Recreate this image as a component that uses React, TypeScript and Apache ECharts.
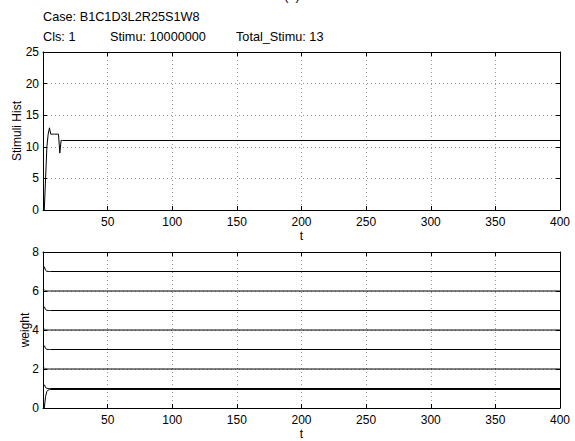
import React, { useEffect, useRef } from "react";
import * as echarts from "echarts";

// Top panel: Stimuli Hist vs t
const stimT = [1, 2, 3, 4, 5, 6, 7, 8, 9, 10, 11, 12, 13, 14, 15, 400];
const stimV = [0, 5, 10, 12, 13, 12, 12, 12, 12, 12, 12, 12, 9, 11, 11, 11];

// Bottom panel: weights vs t (each list = one weight trajectory)
const wT = [1, 2, 3, 4, 5, 6, 400];
const weights: number[][] = [
  [7.25, 7.06, 7.01, 7, 7, 7, 7],
  [6.06, 6.01, 6, 6, 6, 6, 6],
  [5.2, 5.05, 5.01, 5, 5, 5, 5],
  [4.05, 4.01, 4, 4, 4, 4, 4],
  [3.2, 3.05, 3.01, 3, 3, 3, 3],
  [2.05, 2.01, 2, 2, 2, 2, 2],
  [1.2, 1.05, 1.01, 1, 1, 1, 1],
  [0, 0.6, 0.85, 0.92, 0.95, 0.95, 0.95],
];

const xTicks = [50, 100, 150, 200, 250, 300, 350, 400];

const caseText = "Case: B1C1D3L2R25S1W8";
const clsText = "Cls: 1";
const stimuText = "Stimu: 10000000";
const totalText = "Total_Stimu: 13";

const FONT = "'Liberation Sans', Arial, Helvetica, sans-serif";

export default function App() {
  const ref = useRef<HTMLDivElement>(null);
  useEffect(() => {
    if (!ref.current) return;
    const chart = echarts.init(ref.current, undefined, { renderer: "svg" });
    const txt = { color: "#000", fontFamily: FONT, fontSize: 12 };
    const grids = [
      { left: 43, right: 15, top: 52, height: 158 },
      { left: 43, right: 15, top: 252, height: 158 },
    ];
    const axisLine = { show: true, onZero: false, lineStyle: { color: "#000", width: 1 } };
    const tick = { show: true, inside: true, length: 4, lineStyle: { color: "#000" } };
    const split = { show: true, lineStyle: { color: "#999", type: [1, 3] as any, width: 1 } };
    const xAxes: any[] = [];
    const yAxes: any[] = [];
    [0, 1].forEach((g) => {
      xAxes.push({
        type: "value",
        gridIndex: g,
        min: 0,
        max: 400,
        interval: 50,
        position: "bottom",
        name: "t",
        nameLocation: "middle",
        nameGap: 20,
        nameMoveOverlap: false,
        nameTextStyle: { ...txt, lineHeight: 12 },
        axisLine,
        axisTick: tick,
        splitLine: split,
        axisLabel: {
          ...txt,
          lineHeight: 12,
          margin: 6,
          formatter: (v: number) => (xTicks.includes(v) ? String(v) : ""),
        },
      });
      xAxes.push({
        type: "value",
        gridIndex: g,
        min: 0,
        max: 400,
        interval: 50,
        position: "top",
        axisLine,
        axisTick: tick,
        splitLine: { show: false },
        axisLabel: { show: false },
      });
    });
    yAxes.push({
      type: "value",
      gridIndex: 0,
      min: 0,
      max: 25,
      interval: 5,
      position: "left",
      name: "Stimuli Hist",
      nameLocation: "middle",
      nameGap: 20,
      nameMoveOverlap: false,
      nameTextStyle: txt,
      axisLine,
      axisTick: tick,
      splitLine: split,
      axisLabel: { ...txt, margin: 4 },
    });
    yAxes.push({
      type: "value",
      gridIndex: 0,
      min: 0,
      max: 25,
      interval: 5,
      position: "right",
      axisLine,
      axisTick: tick,
      splitLine: { show: false },
      axisLabel: { show: false },
    });
    yAxes.push({
      type: "value",
      gridIndex: 1,
      min: 0,
      max: 8,
      interval: 2,
      position: "left",
      name: "weight",
      nameLocation: "middle",
      nameGap: 12,
      nameMoveOverlap: false,
      nameTextStyle: txt,
      axisLine,
      axisTick: tick,
      splitLine: split,
      axisLabel: { ...txt, margin: 4 },
    });
    yAxes.push({
      type: "value",
      gridIndex: 1,
      min: 0,
      max: 8,
      interval: 2,
      position: "right",
      axisLine,
      axisTick: tick,
      splitLine: { show: false },
      axisLabel: { show: false },
    });

    const lineStyle = { color: "#000", width: 1 };
    const series: any[] = [
      {
        type: "line",
        xAxisIndex: 0,
        yAxisIndex: 0,
        data: stimT.map((t, i) => [t, stimV[i]]),
        showSymbol: false,
        lineStyle,
        itemStyle: { color: "#000" },
      },
      ...weights.map((w) => ({
        type: "line",
        xAxisIndex: 2,
        yAxisIndex: 2,
        data: wT.map((t, i) => [t, w[i]]),
        showSymbol: false,
        lineStyle,
        itemStyle: { color: "#000" },
      })),
    ];

    const hdr = `12.7px ${FONT}`;
    chart.setOption({
      animation: false,
      backgroundColor: "#fff",
      grid: grids,
      xAxis: xAxes,
      yAxis: yAxes,
      series,
      graphic: [
        { type: "text", left: 43, top: 10, style: { text: caseText, fill: "#000", font: hdr } },
        { type: "text", left: 43, top: 30, style: { text: clsText, fill: "#000", font: hdr } },
        { type: "text", left: 110, top: 30, style: { text: stimuText, fill: "#000", font: hdr } },
        { type: "text", left: 236, top: 30, style: { text: totalText, fill: "#000", font: hdr } },
        { type: "text", x: 292, y: 2, style: { text: "(a)", fill: "#000", font: hdr, align: "center", verticalAlign: "bottom" } },
      ],
    });
    return () => chart.dispose();
  }, []);
  return <div ref={ref} style={{ width: 575, height: 441, position: "absolute", left: 0, top: 0 }} />;
}
